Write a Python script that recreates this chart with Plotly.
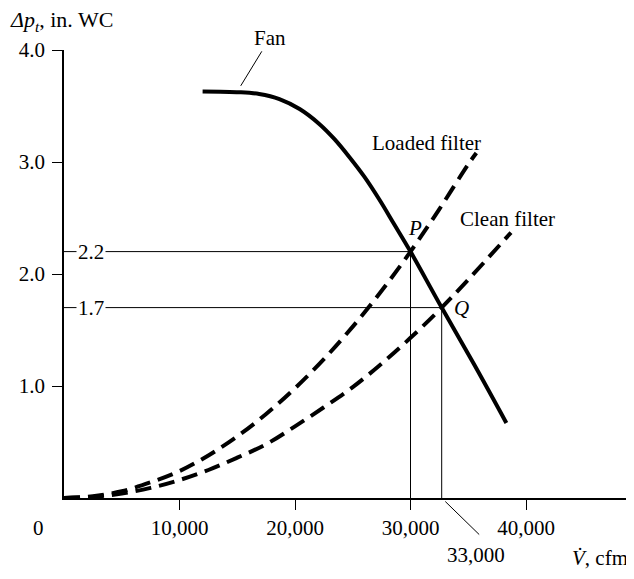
import plotly.graph_objects as go

# ---- data ----
fan_v = [12000, 15200, 16900, 18650, 20400, 22100, 23400, 24700, 26000, 27300, 28600, 30000, 32700, 35550, 38300]
fan_dp = [3.63, 3.623, 3.607, 3.562, 3.473, 3.34, 3.206, 3.045, 2.869, 2.665, 2.442, 2.20, 1.70, 1.185, 0.67]

loaded_v = [0, 2500, 5000, 7500, 10000, 12500, 15000, 17500, 20000, 22500, 25000, 27500, 30000, 32500, 35000, 35700]
loaded_dp = [0, 0.015, 0.06, 0.14, 0.24, 0.38, 0.55, 0.75, 0.98, 1.24, 1.53, 1.85, 2.20, 2.58, 2.98, 3.08]

clean_v = [0, 2500, 5000, 7500, 10000, 12500, 15000, 17500, 20000, 22500, 25000, 27500, 30000, 32700, 35000, 38700]
clean_dp = [0, 0.01, 0.04, 0.09, 0.16, 0.25, 0.36, 0.48, 0.64, 0.81, 0.99, 1.20, 1.43, 1.70, 1.95, 2.37]

P_V, P_DP = 30000, 2.2
Q_V, Q_DP = 32700, 1.7

x_tick_vals = [10000, 20000, 30000, 40000]
x_tick_text = ["10,000", "20,000", "30,000", "40,000"]
y_tick_vals = [1, 2, 3, 4]
y_tick_text = ["1.0", "2.0", "3.0", "4.0"]

FONT = "Liberation Serif, Times New Roman, serif"
FS = 21
DASH = "16px,8px"

fig = go.Figure()

# operating-point reference lines
fig.add_trace(go.Scatter(x=[0, P_V, P_V], y=[P_DP, P_DP, 0], mode="lines",
                         line=dict(color="black", width=1), hoverinfo="skip"))
fig.add_trace(go.Scatter(x=[0, Q_V, Q_V], y=[Q_DP, Q_DP, 0], mode="lines",
                         line=dict(color="black", width=1), hoverinfo="skip"))

# filter curves
fig.add_trace(go.Scatter(x=loaded_v, y=loaded_dp, mode="lines", line_shape="spline",
                         line=dict(color="black", width=4, dash=DASH)))
fig.add_trace(go.Scatter(x=clean_v, y=clean_dp, mode="lines", line_shape="spline",
                         line=dict(color="black", width=4, dash=DASH)))
# fan curve
fig.add_trace(go.Scatter(x=fan_v, y=fan_dp, mode="lines", line_shape="spline",
                         line=dict(color="black", width=4)))

ann = []
tf = dict(family=FONT, size=FS, color="black")
# value labels on reference lines
ann.append(dict(x=2300, y=P_DP, xref="x", yref="y", text="2.2", showarrow=False,
                font=tf, bgcolor="white", borderpad=1))
ann.append(dict(x=2300, y=Q_DP, xref="x", yref="y", text="1.7", showarrow=False,
                font=tf, bgcolor="white", borderpad=1))
# point labels
ann.append(dict(x=P_V, y=P_DP, xref="x", yref="y", text="<i>P</i>", showarrow=False,
                font=tf, xshift=4, yshift=24))
ann.append(dict(x=Q_V, y=Q_DP, xref="x", yref="y", text="<i>Q</i>", showarrow=False,
                font=tf, xshift=20, yshift=0))
# curve labels
ann.append(dict(x=31380, y=3.17, xref="x", yref="y", text="Loaded filter", showarrow=False,
                font=tf))
ann.append(dict(x=38370, y=2.49, xref="x", yref="y", text="Clean filter", showarrow=False,
                font=tf))
ann.append(dict(x=17800, y=1, xref="x", yref="paper", text="Fan", showarrow=False, font=tf,
                xanchor="center", yanchor="middle", yshift=12))
# Fan leader
ann.append(dict(x=15300, y=3.68, xref="x", yref="y", text="", showarrow=True, arrowhead=0,
                arrowwidth=1, arrowcolor="black", ax=22, ay=-36, standoff=0))
# 33,000 label and leader
ann.append(dict(x=35700, y=0, xref="x", yref="paper", text="33,000", showarrow=False, font=tf,
                xanchor="center", yanchor="middle", yshift=-57))
ann.append(dict(x=Q_V, y=0, xref="x", yref="y", text="", showarrow=True, arrowhead=0,
                arrowwidth=1, arrowcolor="black", ax=39, ay=38, standoff=5))
# origin label
ann.append(dict(x=0, y=0, xref="paper", yref="paper", text="0", showarrow=False, font=tf,
                xanchor="center", yanchor="middle", xshift=-26, yshift=-30))
# axis titles
ann.append(dict(x=1, y=0, xref="paper", yref="paper", text="<i>V̇</i>, cfm", showarrow=False,
                font=tf, xanchor="right", yanchor="middle", xshift=-4, yshift=-60))
ann.append(dict(x=0, y=1, xref="paper", yref="paper",
                text="<i>Δp<sub>t</sub></i>, in. WC", showarrow=False,
                font=dict(family=FONT, size=22, color="black"),
                xanchor="left", yanchor="middle", xshift=-56, yshift=29))

# the page body has an 8px default margin, so the figure is sized to fit the window
fig.update_layout(
    width=626, height=571,
    margin=dict(l=56, r=0, t=42, b=81),
    plot_bgcolor="white", paper_bgcolor="white",
    showlegend=False,
    font=dict(family=FONT, size=FS, color="black"),
    annotations=ann,
    xaxis=dict(range=[0, 49350], showgrid=False, zeroline=False, showline=True,
               linecolor="black", linewidth=1.5, ticks="outside", ticklen=10,
               tickcolor="black", tickwidth=1, tickvals=x_tick_vals, ticktext=x_tick_text,
               ticklabelstandoff=0, tickfont=tf),
    yaxis=dict(range=[0, 4.0], showgrid=False, zeroline=False, showline=True,
               linecolor="black", linewidth=1.5, ticks="outside", ticklen=10,
               tickcolor="black", tickwidth=1, tickvals=y_tick_vals, ticktext=y_tick_text,
               ticklabelstandoff=3, tickfont=tf),
)

fig.write_html("out.html")
